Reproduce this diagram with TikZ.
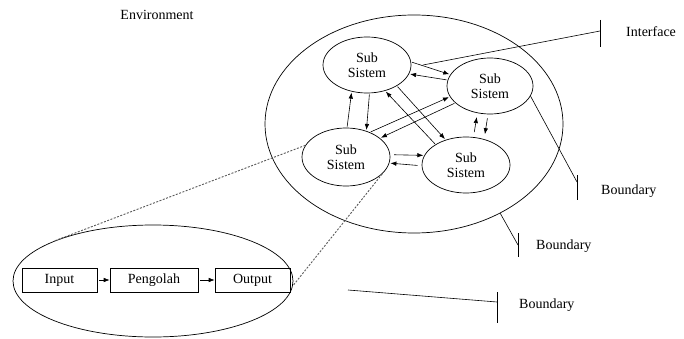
\documentclass[tikz,border=0pt]{standalone}
\usepackage{fontspec}
\setmainfont{Liberation Serif}
\usetikzlibrary{shapes.geometric,arrows.meta}
\begin{document}
\begin{tikzpicture}[x=1pt,y=-1pt,
  every node/.style={font=\fontsize{14}{15}\selectfont},
  sub/.style={draw,ellipse,line width=0.7pt,minimum width=88pt,minimum height=56pt,inner sep=0pt,align=center},
  box/.style={draw,line width=0.6pt,minimum height=24pt,inner sep=0pt},
  arr/.style={line width=0.6pt,-{Latex[length=6pt,width=4.5pt]},shorten <=1pt,shorten >=1pt},
  ln/.style={line width=0.6pt},
  dsh/.style={line width=0.9pt,dash pattern=on 2pt off 1.5pt,gray!70!black},
  lbl/.style={anchor=west,inner sep=0pt}]
\useasboundingbox (0,0) rectangle (684,339);
% environment big ellipse
\node[draw,ellipse,line width=0.7pt,minimum width=298pt,minimum height=218pt,inner sep=0pt] (env) at (414,124) {};
\node[inner sep=0pt] (envt) at (157,15) {Environment};
% subsystems
\node[sub] (tl) at (367,65) {Sub\\Sistem};
\node[sub,minimum width=86pt] (r) at (490,86) {Sub\\Sistem};
\node[sub,minimum height=58pt] (lb) at (346,157) {Sub\\Sistem};
\node[sub] (br) at (466,165) {Sub\\Sistem};
% arrows
\draw[arr] (tl.4) -- (r.164);
\draw[arr] (r.172) -- (tl.-12);
\draw[arr] (lb.88) -- (tl.240);
\draw[arr] (tl.-85) -- (lb.52);
\draw[arr] (br.146) -- (tl.-55);
\draw[arr] (tl.-35) -- (br.129);
\draw[arr] (lb.46) -- (r.195);
\draw[arr] (r.206) -- (lb.29);
\draw[arr,shorten <=5pt,shorten >=4pt] (br.75) -- (r.245);
\draw[arr,shorten <=4pt,shorten >=5pt] (r.266) -- (br.55);
\draw[arr,shorten <=4pt] (lb.3) -- (br.167);
\draw[arr,shorten <=4pt] (br.181) -- (lb.-8);
% interface
\coordinate (ifs) at (423,65);
\coordinate (ife) at (600,31);
\draw[ln] (ifs) -- (ife);
\draw[ln] (600,20) -- (600,47);
\node[lbl] (ift) at (626,32) {Interface};
% boundary 1
\coordinate (b1e) at (577,182);
\draw[ln] (r.-14) -- (b1e);
\draw[ln] (577,175) -- (577,200);
\node[lbl] (b1t) at (601,191) {Boundary};
% boundary 2
\coordinate (b2e) at (518,245);
\draw[ln] (env.-46) -- (b2e);
\draw[ln] (518,233) -- (518,257);
\node[lbl] (b2t) at (536,246) {Boundary};
% boundary 3
\coordinate (b3s) at (348,290);
\coordinate (b3e) at (497,302);
\draw[ln] (b3s) -- (b3e);
\draw[ln] (497,292) -- (497,323);
\node[lbl] (b3t) at (519,305) {Boundary};
% zoom ellipse
\node[draw,ellipse,line width=0.7pt,minimum width=280pt,minimum height=112pt,inner sep=0pt] (proc) at (153,281) {};
\node[box,minimum width=75pt] (in) at (59.5,280) {Input};
\node[box,minimum width=88pt] (pg) at (154,280) {Pengolah};
\node[box,minimum width=75pt] (out) at (252.5,280) {Output};
\draw[arr,shorten <=2pt,shorten >=0pt] (in) -- (pg);
\draw[arr,shorten <=2pt,shorten >=0pt] (pg) -- (out);
% dashed
\draw[dsh] (lb.164) -- (proc.158);
\draw[dsh] (lb.-25) -- (proc.-2);
\end{tikzpicture}
\end{document}
